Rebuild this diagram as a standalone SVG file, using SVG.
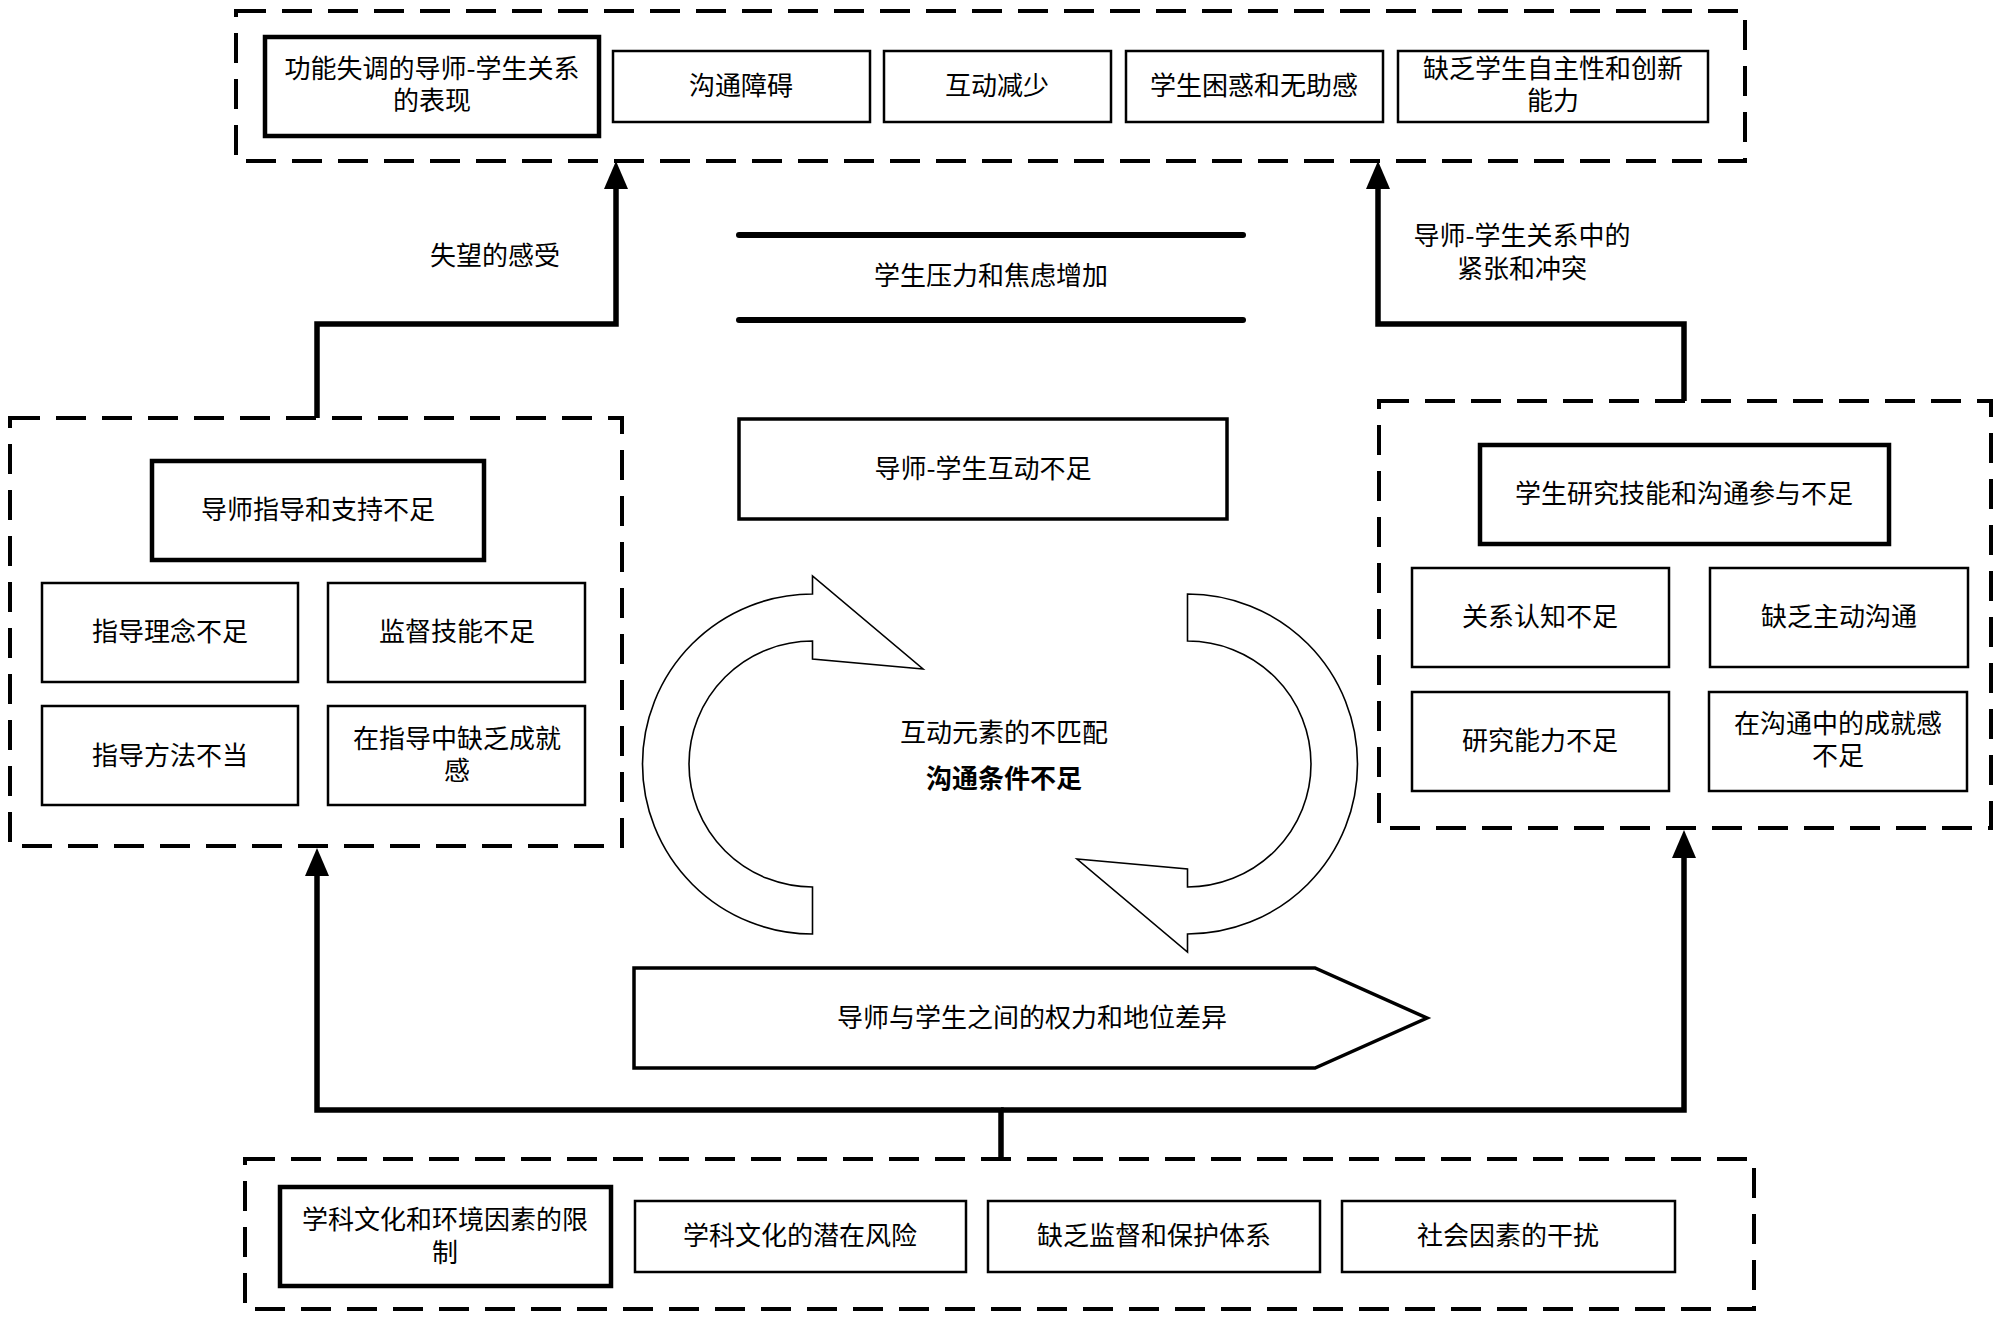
<svg xmlns="http://www.w3.org/2000/svg" width="2000" height="1322" viewBox="0 0 2000 1322">
<style>
.t{font-family:"Noto Sans CJK SC","Noto Sans",sans-serif;font-size:26px;fill:#000;text-anchor:middle;dominant-baseline:central}
.b{font-weight:bold}
.dash{fill:none;stroke:#000;stroke-width:4;stroke-dasharray:30 16}
.thin{fill:#fff;stroke:#000;stroke-width:2.5}
.thick{fill:#fff;stroke:#000;stroke-width:4.5}
.conn{fill:none;stroke:#000;stroke-width:5.5}
.cyc{fill:#fff;stroke:#000;stroke-width:1.6}
</style>
<defs>
<marker id="ah" viewBox="0 0 28 24" refX="0" refY="12" markerWidth="28" markerHeight="24" markerUnits="userSpaceOnUse" orient="auto">
<path d="M0,0 L28,12 L0,24 z" fill="#000"/>
</marker>
</defs>
<rect width="2000" height="1322" fill="#fff"/>

<g id="connectors">
<path class="conn" d="M317 418 V324 H616 V189" marker-end="url(#ah)"/>
<path class="conn" d="M1684 401 V324 H1378 V189" marker-end="url(#ah)"/>
<path class="conn" d="M1001 1159 V1110 H317 V876" marker-end="url(#ah)"/>
<path class="conn" d="M1001 1110 H1684 V858" marker-end="url(#ah)"/>
<text class="t" x="495" y="253">失望的感受</text>
<text class="t" x="1522" y="233">导师-学生关系中的</text>
<text class="t" x="1522" y="266">紧张和冲突</text>
</g>

<g id="top-group">
<rect class="dash" x="236" y="11" width="1509" height="150"/>
<g id="top-1"><rect class="thick" x="265" y="37" width="334" height="99"/>
<text class="t" x="432" y="66">功能失调的导师-学生关系</text><text class="t" x="432" y="98">的表现</text></g>
<g id="top-2"><rect class="thin" x="613" y="51" width="257" height="71"/><text class="t" x="741" y="83">沟通障碍</text></g>
<g id="top-3"><rect class="thin" x="884" y="51" width="227" height="71"/><text class="t" x="997" y="83">互动减少</text></g>
<g id="top-4"><rect class="thin" x="1126" y="51" width="257" height="71"/><text class="t" x="1254" y="83">学生困惑和无助感</text></g>
<g id="top-5"><rect class="thin" x="1398" y="51" width="310" height="71"/>
<text class="t" x="1553" y="66">缺乏学生自主性和创新</text><text class="t" x="1553" y="98">能力</text></g>
</g>

<g id="left-group">
<rect class="dash" x="10" y="418" width="612" height="428"/>
<g id="left-main"><rect class="thick" x="152" y="461" width="332" height="99"/><text class="t" x="318" y="507">导师指导和支持不足</text></g>
<g id="left-1"><rect class="thin" x="42" y="583" width="256" height="99"/><text class="t" x="170" y="629">指导理念不足</text></g>
<g id="left-2"><rect class="thin" x="328" y="583" width="257" height="99"/><text class="t" x="457" y="629">监督技能不足</text></g>
<g id="left-3"><rect class="thin" x="42" y="706" width="256" height="99"/><text class="t" x="170" y="753">指导方法不当</text></g>
<g id="left-4"><rect class="thin" x="328" y="706" width="257" height="99"/>
<text class="t" x="457" y="736">在指导中缺乏成就</text><text class="t" x="457" y="768">感</text></g>
</g>

<g id="right-group">
<rect class="dash" x="1379" y="401" width="612" height="427"/>
<g id="right-main"><rect class="thick" x="1480" y="445" width="409" height="99"/><text class="t" x="1684" y="491">学生研究技能和沟通参与不足</text></g>
<g id="right-1"><rect class="thin" x="1412" y="568" width="257" height="99"/><text class="t" x="1540" y="614">关系认知不足</text></g>
<g id="right-2"><rect class="thin" x="1710" y="568" width="258" height="99"/><text class="t" x="1839" y="614">缺乏主动沟通</text></g>
<g id="right-3"><rect class="thin" x="1412" y="692" width="257" height="99"/><text class="t" x="1540" y="738">研究能力不足</text></g>
<g id="right-4"><rect class="thin" x="1709" y="692" width="258" height="99"/>
<text class="t" x="1838" y="721">在沟通中的成就感</text><text class="t" x="1838" y="753">不足</text></g>
</g>

<g id="stress">
<line x1="739" y1="235" x2="1243" y2="235" stroke="#000" stroke-width="6" stroke-linecap="round"/>
<line x1="739" y1="320" x2="1243" y2="320" stroke="#000" stroke-width="6" stroke-linecap="round"/>
<text class="t" x="991" y="273">学生压力和焦虑增加</text>
</g>

<g id="interaction">
<rect x="739" y="419" width="488" height="100" fill="#fff" stroke="#000" stroke-width="3.5"/>
<text class="t" x="983" y="466">导师-学生互动不足</text>
</g>

<g id="cycle">
<path id="cyc-left" class="cyc" d="M812.5 934 A170 170 0 0 1 812.5 594 L812.5 576 L923 669 L812.5 659 L812.5 641 A123.5 123 0 0 0 812.5 887 Z"/>
<path id="cyc-right" class="cyc" transform="rotate(180 1000 764)" d="M812.5 934 A170 170 0 0 1 812.5 594 L812.5 576 L923 669 L812.5 659 L812.5 641 A123.5 123 0 0 0 812.5 887 Z"/>
<text class="t" x="1004" y="730">互动元素的不匹配</text>
<text class="t b" x="1004" y="776">沟通条件不足</text>
</g>

<g id="power">
<polygon points="634,968 1315,968 1427,1018 1315,1068 634,1068" fill="#fff" stroke="#000" stroke-width="3.5"/>
<text class="t" x="1032" y="1015">导师与学生之间的权力和地位差异</text>
</g>

<g id="bottom-group">
<rect class="dash" x="245" y="1159" width="1509" height="150"/>
<g id="bot-1"><rect class="thick" x="280" y="1187" width="331" height="99"/>
<text class="t" x="445" y="1217">学科文化和环境因素的限</text><text class="t" x="445" y="1250">制</text></g>
<g id="bot-2"><rect class="thin" x="635" y="1201" width="331" height="71"/><text class="t" x="800" y="1233">学科文化的潜在风险</text></g>
<g id="bot-3"><rect class="thin" x="988" y="1201" width="332" height="71"/><text class="t" x="1154" y="1233">缺乏监督和保护体系</text></g>
<g id="bot-4"><rect class="thin" x="1342" y="1201" width="333" height="71"/><text class="t" x="1508" y="1233">社会因素的干扰</text></g>
</g>
</svg>
